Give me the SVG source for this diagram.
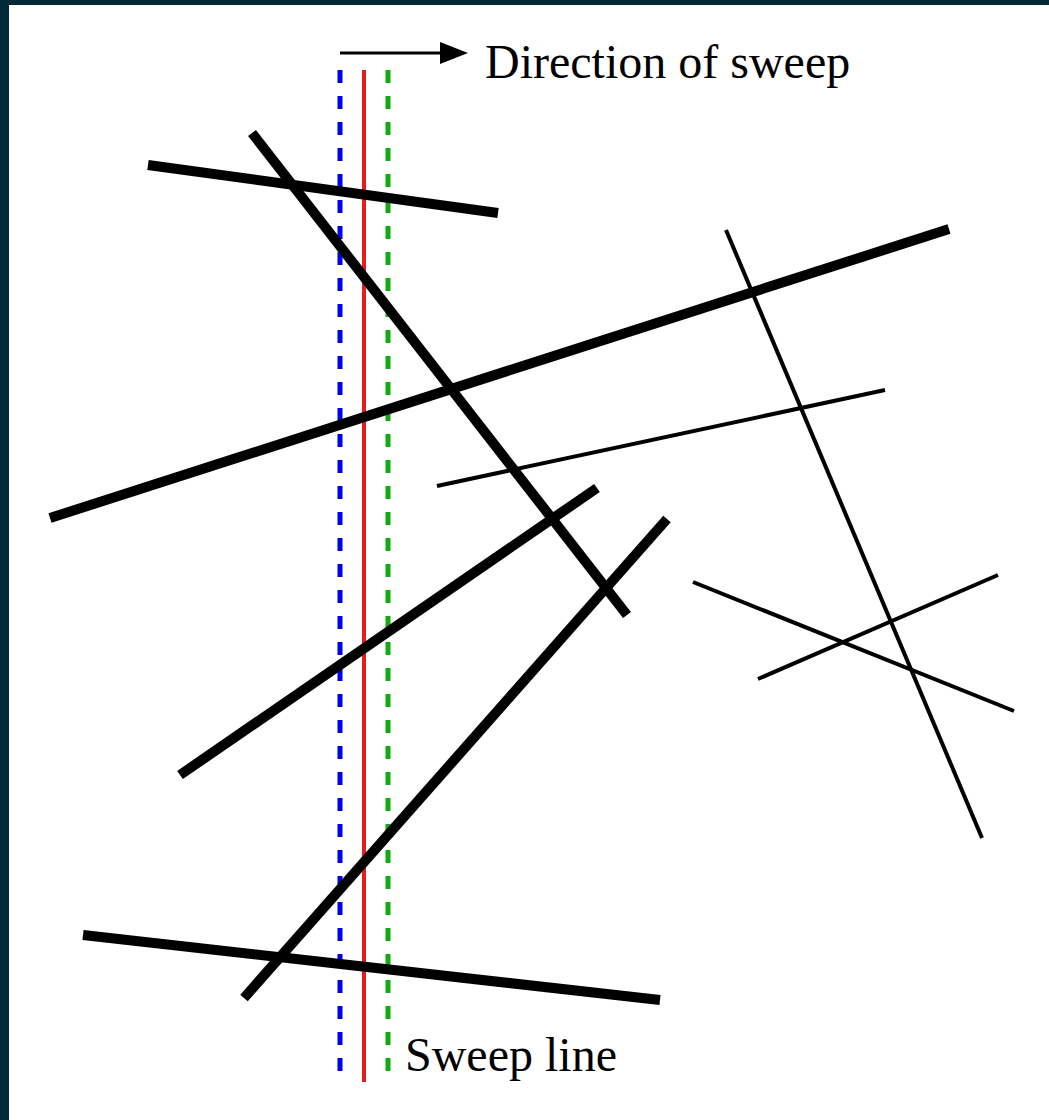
<svg xmlns="http://www.w3.org/2000/svg" width="1049" height="1120" viewBox="0 0 1049 1120">
<defs>
<style>
.thick{stroke:#000;stroke-width:10;fill:none}
.thin{stroke:#000;stroke-width:4;fill:none}
.lbl{font-family:"Liberation Serif","Times New Roman",serif;font-size:48px;fill:#000}
</style>
</defs>
<rect x="0" y="0" width="1049" height="1120" fill="#002838"/>
<rect x="9" y="5" width="1040" height="1115" fill="#fff"/>
<g id="sweep">
<line x1="340" y1="70" x2="340" y2="1082" stroke="#0000ee" stroke-width="5" stroke-dasharray="13 13"/>
<line x1="364" y1="70" x2="364" y2="1082" stroke="#e81c1c" stroke-width="4"/>
<line x1="388" y1="70" x2="388" y2="1082" stroke="#11aa11" stroke-width="5" stroke-dasharray="13 13"/>
</g>
<g id="segments">
<line class="thick" x1="148" y1="165" x2="498" y2="213"/>
<line class="thick" x1="252" y1="133" x2="627" y2="615"/>
<line class="thick" x1="50" y1="518" x2="949" y2="229"/>
<line class="thin" x1="726" y1="230" x2="982" y2="838"/>
<line class="thin" x1="437" y1="486" x2="885" y2="390"/>
<line class="thick" x1="180" y1="775" x2="597" y2="488"/>
<line class="thick" x1="244" y1="998" x2="667" y2="519"/>
<line class="thick" x1="83" y1="935" x2="660" y2="1000"/>
<line class="thin" x1="693" y1="582" x2="1014" y2="711"/>
<line class="thin" x1="758" y1="679" x2="998" y2="575"/>
</g>
<g id="arrow">
<line x1="340" y1="53" x2="450" y2="53" stroke="#000" stroke-width="3"/>
<path d="M440,42 L468,53 L440,64 Z" fill="#000"/>
</g>
<text class="lbl" x="485" y="78">Direction of sweep</text>
<text class="lbl" x="405" y="1071">Sweep line</text>
</svg>
